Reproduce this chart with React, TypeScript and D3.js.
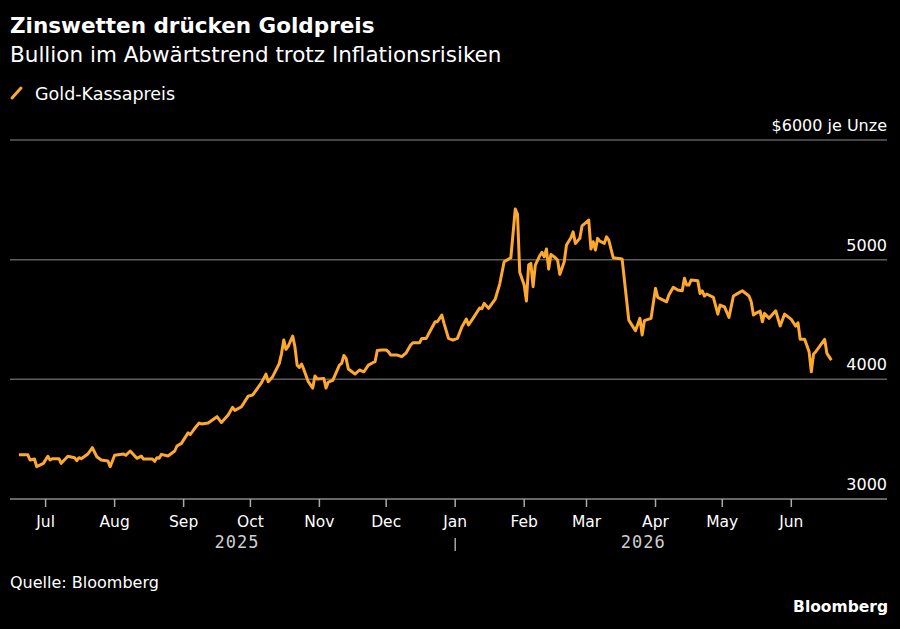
import React, { useRef, useEffect } from "react";
import * as d3 from "d3";

// Gold spot price (USD per ounce)
const dates: string[] = [
  "2025-06-19", "2025-06-23", "2025-06-24", "2025-06-26", "2025-06-27", "2025-06-30",
  "2025-07-02", "2025-07-03", "2025-07-04", "2025-07-07", "2025-07-08", "2025-07-11",
  "2025-07-14", "2025-07-15", "2025-07-16", "2025-07-17", "2025-07-20", "2025-07-22",
  "2025-07-24", "2025-07-26", "2025-07-29", "2025-07-30", "2025-08-01", "2025-08-05",
  "2025-08-06", "2025-08-08", "2025-08-11", "2025-08-13", "2025-08-14", "2025-08-18",
  "2025-08-19", "2025-08-20", "2025-08-21", "2025-08-22", "2025-08-25", "2025-08-28",
  "2025-08-29", "2025-08-31", "2025-09-03", "2025-09-04", "2025-09-06", "2025-09-08",
  "2025-09-09", "2025-09-12", "2025-09-16", "2025-09-18", "2025-09-21", "2025-09-23",
  "2025-09-24", "2025-09-27", "2025-09-30", "2025-10-02", "2025-10-06", "2025-10-08",
  "2025-10-09", "2025-10-11", "2025-10-14", "2025-10-15", "2025-10-16", "2025-10-17",
  "2025-10-18", "2025-10-20", "2025-10-21", "2025-10-22", "2025-10-23", "2025-10-24",
  "2025-10-25", "2025-10-27", "2025-10-29", "2025-10-30", "2025-10-31", "2025-11-03",
  "2025-11-04", "2025-11-05", "2025-11-07", "2025-11-10", "2025-11-11", "2025-11-12",
  "2025-11-13", "2025-11-14", "2025-11-17", "2025-11-19", "2025-11-21", "2025-11-23",
  "2025-11-25", "2025-11-26", "2025-11-27", "2025-11-29", "2025-12-01", "2025-12-02",
  "2025-12-03", "2025-12-06", "2025-12-08", "2025-12-10", "2025-12-12", "2025-12-13",
  "2025-12-16", "2025-12-17", "2025-12-19", "2025-12-21", "2025-12-23", "2025-12-24",
  "2025-12-26", "2025-12-27", "2025-12-29", "2025-12-31", "2026-01-02", "2026-01-04",
  "2026-01-06", "2026-01-07", "2026-01-09", "2026-01-12", "2026-01-13", "2026-01-14",
  "2026-01-16", "2026-01-19", "2026-01-21", "2026-01-23", "2026-01-26", "2026-01-28",
  "2026-01-29", "2026-01-30", "2026-02-01", "2026-02-02", "2026-02-03", "2026-02-04",
  "2026-02-05", "2026-02-06", "2026-02-08", "2026-02-09", "2026-02-10", "2026-02-11",
  "2026-02-12", "2026-02-13", "2026-02-15", "2026-02-16", "2026-02-17", "2026-02-19",
  "2026-02-20", "2026-02-22", "2026-02-23", "2026-02-24", "2026-02-26", "2026-02-27",
  "2026-03-02", "2026-03-03", "2026-03-04", "2026-03-05", "2026-03-06", "2026-03-07",
  "2026-03-09", "2026-03-10", "2026-03-11", "2026-03-13", "2026-03-17", "2026-03-20",
  "2026-03-23", "2026-03-25", "2026-03-26", "2026-03-27", "2026-03-30", "2026-04-01",
  "2026-04-02", "2026-04-06", "2026-04-07", "2026-04-09", "2026-04-11", "2026-04-13",
  "2026-04-14", "2026-04-15", "2026-04-16", "2026-04-17", "2026-04-20", "2026-04-21",
  "2026-04-22", "2026-04-23", "2026-04-24", "2026-04-27", "2026-04-29", "2026-04-30",
  "2026-05-02", "2026-05-04", "2026-05-06", "2026-05-08", "2026-05-10", "2026-05-13",
  "2026-05-14", "2026-05-15", "2026-05-16", "2026-05-18", "2026-05-19", "2026-05-20",
  "2026-05-22", "2026-05-25", "2026-05-27", "2026-05-29", "2026-06-01", "2026-06-02",
  "2026-06-03", "2026-06-04", "2026-06-05", "2026-06-07", "2026-06-09", "2026-06-10",
  "2026-06-11", "2026-06-12", "2026-06-16", "2026-06-17", "2026-06-19",
];

const prices: number[] = [
  3370, 3370, 3326, 3334, 3270, 3298,
  3357, 3326, 3337, 3337, 3298, 3357,
  3345, 3320, 3345, 3337, 3376, 3429,
  3353, 3326, 3317, 3270, 3365, 3376,
  3365, 3401, 3340, 3359, 3334, 3334,
  3315, 3345, 3340, 3373, 3359, 3401,
  3443, 3465, 3553, 3539, 3591, 3635,
  3627, 3635, 3688, 3639, 3702, 3766,
  3741, 3771, 3860, 3869, 3972, 4044,
  3980, 4022, 4134, 4217, 4328, 4251,
  4278, 4362, 4272, 4119, 4100, 4128,
  4083, 3980, 3927, 4028, 4002, 4007,
  3927, 3977, 3992, 4119, 4134, 4199,
  4175, 4086, 4044, 4078, 4063, 4119,
  4139, 4147, 4241, 4245, 4245, 4231,
  4203, 4203, 4189, 4222, 4287, 4306,
  4306, 4342, 4342, 4412, 4481, 4481,
  4537, 4468, 4342, 4328, 4342, 4437,
  4504, 4454, 4510, 4596, 4590, 4635,
  4593, 4671, 4796, 4982, 5016, 5423,
  5378, 4894, 4788, 4654, 4955, 4969,
  4774, 4955, 5033, 5061, 5024, 5089,
  4921, 5044, 5016, 4997, 4877, 4982,
  5122, 5183, 5233, 5136, 5178, 5283,
  5331, 5089, 5150, 5080, 5178, 5155,
  5136, 5191, 5164, 5016, 5005, 4495,
  4406, 4510, 4370, 4490, 4510, 4760,
  4685, 4648, 4704, 4769, 4746, 4740,
  4844, 4788, 4788, 4830, 4824, 4718,
  4740, 4696, 4713, 4685, 4545, 4621,
  4606, 4518, 4696, 4718, 4740, 4696,
  4648, 4537, 4551, 4570, 4481, 4551,
  4510, 4573, 4445, 4545, 4501, 4473,
  4445, 4473, 4334, 4334, 4231, 4063,
  4211, 4231, 4334, 4217, 4161,
];

const yTicks: number[] = [3000, 4000, 5000, 6000];
const monthLabels: string[] = [
  "Jul", "Aug", "Sep", "Oct", "Nov", "Dec",
  "Jan", "Feb", "Mar", "Apr", "May", "Jun",
];
const yearLabels: string[] = ["2025", "2026"];

const WIDTH = 900;
const HEIGHT = 629;
const FONT = "'DejaVu Sans', 'Noto Sans', sans-serif";
const ORANGE = "#ffa82e";

const GoldChart: React.FC = () => {
  const ref = useRef<SVGSVGElement | null>(null);

  useEffect(() => {
    const parse = d3.timeParse("%Y-%m-%d");
    const data = dates.map((d, i) => ({ date: parse(d) as Date, value: prices[i] }));

    d3.select(ref.current).selectAll("*").remove();
    const svg = d3.select(ref.current).attr("width", WIDTH).attr("height", HEIGHT);

    svg.append("rect").attr("width", WIDTH).attr("height", HEIGHT).attr("fill", "#000");

    const left = 10;
    const right = 887;

    const x = d3
      .scaleTime()
      .domain([new Date(2025, 5, 15), new Date(2026, 6, 14)])
      .range([left, right]);
    const y = d3.scaleLinear().domain([3000, 6000]).range([499, 140]);

    // Title block
    svg
      .append("text")
      .attr("x", 10)
      .attr("y", 33)
      .attr("fill", "#fff")
      .style("font-family", FONT)
      .style("font-weight", "bold")
      .style("font-size", "21.5px")
      .text("Zinswetten drücken Goldpreis");
    svg
      .append("text")
      .attr("x", 10)
      .attr("y", 62)
      .attr("fill", "#fff")
      .style("font-family", FONT)
      .style("font-size", "21.5px")
      .text("Bullion im Abwärtstrend trotz Inflationsrisiken");

    // Legend
    svg
      .append("line")
      .attr("x1", 12)
      .attr("y1", 98)
      .attr("x2", 21)
      .attr("y2", 88)
      .attr("stroke", ORANGE)
      .attr("stroke-width", 3)
      .attr("stroke-linecap", "round");
    svg
      .append("text")
      .attr("x", 35)
      .attr("y", 100)
      .attr("fill", "#fff")
      .style("font-family", FONT)
      .style("font-size", "17.5px")
      .text("Gold-Kassapreis");

    // Gridlines + right labels
    yTicks.forEach((t) => {
      svg
        .append("line")
        .attr("x1", left)
        .attr("x2", right)
        .attr("y1", y(t))
        .attr("y2", y(t))
        .attr("stroke", t === 3000 ? "#8a8a8a" : "#5e5e5e")
        .attr("stroke-width", 1.5);
      svg
        .append("text")
        .attr("x", right)
        .attr("y", y(t) - 9)
        .attr("text-anchor", "end")
        .attr("fill", "#fff")
        .style("font-family", FONT)
        .style("font-size", "16px")
        .text(t === 6000 ? "$6000 je Unze" : String(t));
    });

    // Month ticks
    const months = d3.timeMonth.range(new Date(2025, 6, 1), new Date(2026, 6, 1));
    const axis = svg.append("g");
    months.forEach((m, i) => {
      axis
        .append("line")
        .attr("x1", x(m))
        .attr("x2", x(m))
        .attr("y1", 499)
        .attr("y2", 507)
        .attr("stroke", "#aaa")
        .attr("stroke-width", 1.5);
      axis
        .append("text")
        .attr("x", x(m))
        .attr("y", 527)
        .attr("text-anchor", "middle")
        .attr("fill", "#fff")
        .style("font-family", FONT)
        .style("font-size", "15.5px")
        .text(monthLabels[i]);
    });

    // Year labels, centered over the data span of each year
    const first = data[0].date;
    const last = data[data.length - 1].date;
    const jan = new Date(2026, 0, 1);
    const yearSpans: [Date, Date][] = [
      [first, jan],
      [jan, last],
    ];
    yearSpans.forEach(([a, b], i) => {
      axis
        .append("text")
        .attr("x", (x(a) + x(b)) / 2)
        .attr("y", 548)
        .attr("text-anchor", "middle")
        .attr("fill", "#cfcfcf")
        .style("font-family", "'DejaVu Sans Mono', monospace")
        .style("font-size", "17px")
        .style("letter-spacing", "1px")
        .text(yearLabels[i]);
    });
    axis
      .append("line")
      .attr("x1", x(jan))
      .attr("x2", x(jan))
      .attr("y1", 538)
      .attr("y2", 551)
      .attr("stroke", "#cfcfcf")
      .attr("stroke-width", 1.2);

    // Price line
    const line = d3
      .line<{ date: Date; value: number }>()
      .x((d) => x(d.date))
      .y((d) => y(d.value));
    svg
      .append("path")
      .datum(data)
      .attr("fill", "none")
      .attr("stroke", ORANGE)
      .attr("stroke-width", 3)
      .attr("stroke-linejoin", "round")
      .attr("d", line);

    // Footer
    svg
      .append("text")
      .attr("x", 10)
      .attr("y", 588)
      .attr("fill", "#fff")
      .style("font-family", FONT)
      .style("font-size", "16px")
      .text("Quelle: Bloomberg");
    svg
      .append("text")
      .attr("x", 888)
      .attr("y", 612)
      .attr("text-anchor", "end")
      .attr("fill", "#fff")
      .style("font-family", FONT)
      .style("font-weight", "bold")
      .style("font-size", "15.5px")
      .text("Bloomberg");
  }, []);

  return <svg ref={ref} style={{ position: "absolute", left: 0, top: 0, display: "block" }} />;
};

export default function App() {
  return <GoldChart />;
}
